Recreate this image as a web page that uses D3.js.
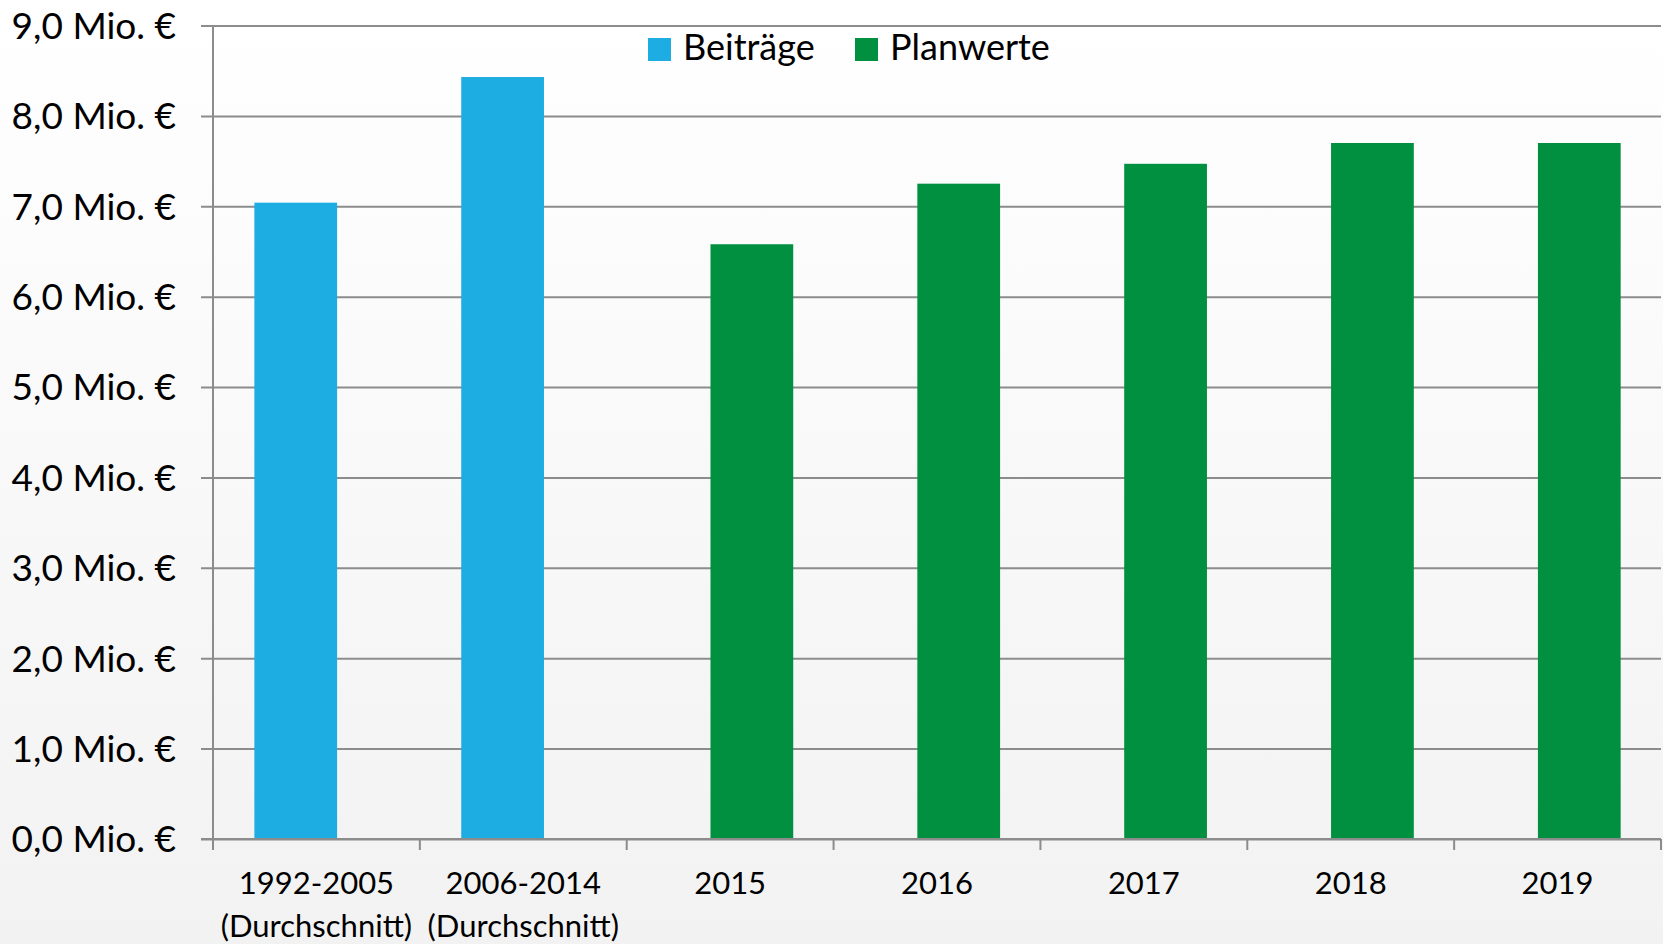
<!DOCTYPE html>
<html>
<head>
<meta charset="utf-8">
<script src="https://cdn.jsdelivr.net/npm/d3@7"></script>
<style>
  html, body { margin: 0; padding: 0; }
  body { width: 1663px; height: 944px; overflow: hidden; }
  svg text { font-family: Lato, "Open Sans", sans-serif; fill: #000; }
</style>
</head>
<body>
<svg id="chart" width="1663" height="944"></svg>
<script>
// values in Mio. €
const categories = ["1992-2005|(Durchschnitt)", "2006-2014|(Durchschnitt)", "2015", "2016", "2017", "2018", "2019"];
const seriesNames = ["Beiträge", "Planwerte"];
const beitraege = [7.04, 8.43, null, null, null, null, null];
const planwerte = [null, null, 6.58, 7.25, 7.47, 7.70, 7.70];
const yTicks = [0, 1, 2, 3, 4, 5, 6, 7, 8, 9];
const colors = ["#1eade3", "#009040"];

const svg = d3.select("#chart");
const width = 1663, height = 944;
const margin = { top: 25.5, right: 2, bottom: 105, left: 213 };

// background gradient, white at top to light grey at bottom
const defs = svg.append("defs");
const grad = defs.append("linearGradient")
	.attr("id", "bg")
	.attr("x1", 0).attr("y1", 0).attr("x2", 0).attr("y2", 1);
grad.append("stop").attr("offset", "0%").attr("stop-color", "#ffffff");
grad.append("stop").attr("offset", "100%").attr("stop-color", "#f2f2f2");
svg.append("rect").attr("width", width).attr("height", height).attr("fill", "url(#bg)");

let x = d3.scaleBand()
	.domain(categories)
	.range([margin.left, width - margin.right])
	.padding(0);

let y = d3.scaleLinear()
	.domain([0, 9])
	.range([height - margin.bottom, margin.top]);

// gridlines incl. the little tick stubs left of the axis
svg.append("g")
	.attr("transform", "translate(" + margin.left + ",0)")
	.call(d3.axisLeft(y).tickValues(yTicks).tickSize(-(width - margin.right - margin.left)).tickFormat(""))
	.call(g => g.select(".domain").remove())
	.call(g => g.selectAll("line").attr("stroke", "#8c8c8c").attr("stroke-width", 2).attr("x1", -12));

// y labels
svg.append("g")
	.selectAll("text")
	.data(yTicks)
	.enter()
	.append("text")
	.attr("x", 176)
	.attr("y", function(d) { return y(d); })
	.attr("dy", "0.36em")
	.attr("text-anchor", "end")
	.style("font-size", "37px")
	.text(function(d) { return d.toFixed(1).replace(".", ",") + " Mio. €"; });

// y axis line
svg.append("line")
	.attr("x1", margin.left).attr("x2", margin.left)
	.attr("y1", margin.top).attr("y2", y(0) + 11)
	.attr("stroke", "#8c8c8c").attr("stroke-width", 2);

// bars: two series clustered with overlap, like the spreadsheet chart
const offsets = [0.2, 0.405];
const barW = x.bandwidth() * 0.4;
[beitraege, planwerte].forEach(function(values, s) {
	svg.append("g")
		.selectAll("rect")
		.data(values.map(function(v, i) { return { cat: categories[i], v: v }; }).filter(d => d.v !== null))
		.enter()
		.append("rect")
		.attr("x", function(d) { return x(d.cat) + x.bandwidth() * offsets[s]; })
		.attr("width", barW)
		.attr("y", function(d) { return y(d.v); })
		.attr("height", function(d) { return y(0) - y(d.v); })
		.attr("fill", colors[s]);
});

// x axis with tick marks at band borders
let xAxis = svg.append("g").attr("transform", "translate(0," + y(0) + ")");
xAxis.append("line")
	.attr("x1", margin.left - 12).attr("x2", width - margin.right)
	.attr("stroke", "#8c8c8c").attr("stroke-width", 2);
xAxis.selectAll(".tk")
	.data(categories.concat(["end"]))
	.enter()
	.append("line")
	.attr("class", "tk")
	.attr("x1", function(d, i) { return i < categories.length ? x(d) : x(categories[i - 1]) + x.bandwidth(); })
	.attr("x2", function(d, i) { return i < categories.length ? x(d) : x(categories[i - 1]) + x.bandwidth(); })
	.attr("y1", 0).attr("y2", 11)
	.attr("stroke", "#8c8c8c").attr("stroke-width", 2);

let xl = svg.append("g")
	.selectAll("text")
	.data(categories)
	.enter()
	.append("text")
	.attr("x", function(d) { return x(d) + x.bandwidth() / 2; })
	.attr("y", 894)
	.attr("text-anchor", "middle")
	.style("font-size", "31px");
xl.each(function(d) {
	let parts = d.split("|");
	let t = d3.select(this);
	parts.forEach(function(p, i) {
		t.append("tspan")
			.attr("x", x(d) + x.bandwidth() / 2)
			.attr("dy", i === 0 ? 0 : 43)
			.text(p);
	});
});

// legend
const legendX = [648, 855];
let legend = svg.append("g")
	.selectAll("g")
	.data(seriesNames)
	.enter()
	.append("g")
	.attr("transform", function(d, i) { return "translate(" + legendX[i] + ",38)"; });
legend.append("rect")
	.attr("width", 23).attr("height", 23)
	.attr("fill", function(d, i) { return colors[i]; });
legend.append("text")
	.attr("x", 35)
	.attr("y", 22)
	.style("font-size", "36px")
	.text(function(d) { return d; });
</script>
</body>
</html>
